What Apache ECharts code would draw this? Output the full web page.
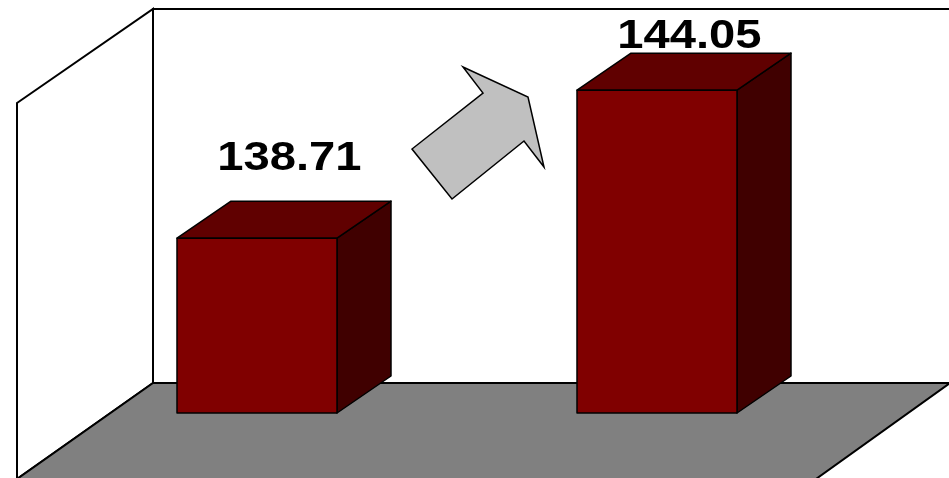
<!DOCTYPE html>
<html>
<head>
<meta charset="utf-8">
<style>
  html, body { margin: 0; padding: 0; background: #fff; }
  #chart { width: 949px; height: 478px; }
</style>
<script src="https://cdn.jsdelivr.net/npm/echarts@6/dist/echarts.min.js"></script>
</head>
<body>
<div id="chart"></div>
<script>
// Two periods compared as 3D boxes
var categories = ['Period 1', 'Period 2'];
var values = [138.71, 144.05];

// Hidden value scale
var valueMin = 132.4;
var valueMax = 147;

// Box depth projection (px)
var DEPTH_X = 54;
var DEPTH_Y = -37;

var chart = echarts.init(document.getElementById('chart'), null, { renderer: 'canvas' });

function renderBox(params, api) {
  var idx = api.value(0);
  var val = api.value(1);
  var top = api.coord([idx, val]);
  var base = api.coord([idx, valueMin]);
  var w = api.size([1, 0])[0] * 0.4;
  var x0 = top[0] - w / 2;
  var x1 = top[0] + w / 2;
  var yt = top[1];
  var yb = base[1];
  var edge = { stroke: '#000', lineWidth: 1.5, lineJoin: 'round' };

  var labelTop = Math.max(yt - 100, 16);
  var labelX = top[0] + DEPTH_X * 0.6;

  return {
    type: 'group',
    children: [
      {
        type: 'polygon',
        shape: { points: [[x1, yt], [x1 + DEPTH_X, yt + DEPTH_Y], [x1 + DEPTH_X, yb + DEPTH_Y], [x1, yb]] },
        style: Object.assign({ fill: '#400000' }, edge)
      },
      {
        type: 'polygon',
        shape: { points: [[x0, yt], [x1, yt], [x1 + DEPTH_X, yt + DEPTH_Y], [x0 + DEPTH_X, yt + DEPTH_Y]] },
        style: Object.assign({ fill: '#600000' }, edge)
      },
      {
        type: 'rect',
        shape: { x: x0, y: yt, width: w, height: yb - yt },
        style: Object.assign({ fill: '#800000' }, edge)
      },
      {
        type: 'text',
        x: labelX,
        y: labelTop,
        scaleX: 1.15,
        originX: 0,
        style: {
          text: val.toFixed(2),
          font: 'bold 41px "Liberation Sans", Arial, sans-serif',
          fill: '#000',
          align: 'center',
          verticalAlign: 'top'
        }
      }
    ]
  };
}

var frameStroke = { stroke: '#000', lineWidth: 2, lineJoin: 'miter' };

var option = {
  animation: false,
  backgroundColor: '#ffffff',
  grid: { left: 57, right: 92, top: 8.4, bottom: 65 },
  xAxis: { type: 'category', data: categories, show: false },
  yAxis: { type: 'value', min: valueMin, max: valueMax, show: false, splitLine: { show: false } },
  graphic: [
    // back wall
    { type: 'polygon', z: 0, shape: { points: [[153, 9], [960, 9], [960, 383], [153, 383]] },
      style: Object.assign({ fill: '#ffffff' }, frameStroke), silent: true },
    // side wall
    { type: 'polygon', z: 0, shape: { points: [[17, 103], [153, 9], [153, 383], [17, 479]] },
      style: Object.assign({ fill: '#ffffff' }, frameStroke), silent: true },
    // floor
    { type: 'polygon', z: 1, shape: { points: [[153, 383], [950, 383], [816, 479], [17, 479]] },
      style: Object.assign({ fill: '#808080' }, frameStroke), silent: true },
    // rising arrow
    { type: 'polygon', z: 1, shape: { points: [[463, 67], [528, 97], [544, 167], [524, 141], [452, 199], [412, 149], [483, 93]] },
      style: { fill: '#c0c0c0', stroke: '#000', lineWidth: 1.5, lineJoin: 'miter' }, silent: true }
  ],
  series: [{
    type: 'custom',
    z: 5,
    renderItem: renderBox,
    encode: { x: 0, y: 1 },
    data: values.map(function (v, i) { return [i, v]; })
  }]
};

chart.setOption(option);
</script>
</body>
</html>
